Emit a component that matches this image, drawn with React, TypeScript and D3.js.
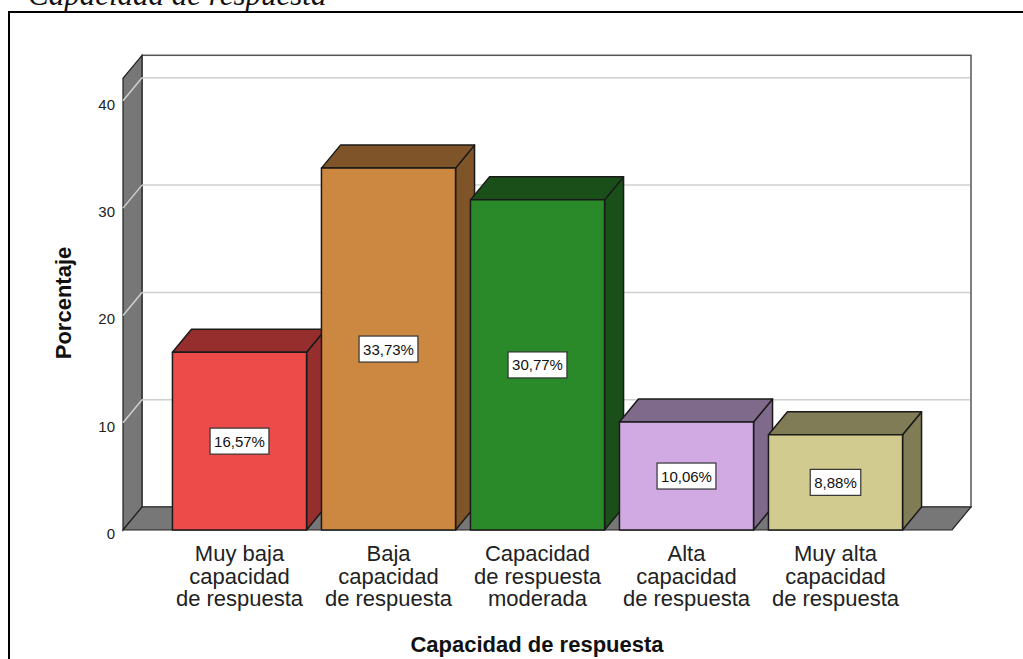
import * as d3 from 'd3';
import React, { useEffect, useRef } from 'react';

const categories = [
  'Muy baja capacidad de respuesta',
  'Baja capacidad de respuesta',
  'Capacidad de respuesta moderada',
  'Alta capacidad de respuesta',
  'Muy alta capacidad de respuesta',
];
const categoryLines = [
  ['Muy baja', 'capacidad', 'de respuesta'],
  ['Baja', 'capacidad', 'de respuesta'],
  ['Capacidad', 'de respuesta', 'moderada'],
  ['Alta', 'capacidad', 'de respuesta'],
  ['Muy alta', 'capacidad', 'de respuesta'],
];
const percentages = [16.57, 33.73, 30.77, 10.06, 8.88];
const yTicks = [0, 10, 20, 30, 40];

const frontColors = ['#ED4A4A', '#CC8840', '#2A8A2A', '#D1A9E3', '#D1CB8F'];
const darkColors = ['#962E2E', '#7E5428', '#1A4F1A', '#806A8C', '#807D56'];

const W = 1023;
const H = 659;
const DX = 19;
const DY = 23;
const left = 123;
const right = 952;
const font = '"Liberation Sans", Arial, sans-serif';

const App = () => {
  const svgRef = useRef(null);

  useEffect(() => {
    const svg = d3.select(svgRef.current);
    svg.selectAll('*').remove();

    const y = d3.scaleLinear().domain([0, 42.1]).range([530, 78.3]);
    const x = d3
      .scaleBand()
      .domain(categories)
      .range([165, 910])
      .paddingInner(0.1)
      .paddingOuter(0.05);
    const y0 = y(0);
    const yTop = y(42.1);

    // outer frame + caption cut by the top edge
    svg
      .append('text')
      .attr('x', 28)
      .attr('y', 5)
      .style('font-family', '"Liberation Serif", "Times New Roman", serif')
      .style('font-style', 'italic')
      .style('font-size', '31px')
      .style('fill', '#111')
      .text('Capacidad de respuesta');
    svg
      .append('path')
      .attr('d', `M9,${H} L9,12 L${W},12`)
      .attr('fill', 'none')
      .attr('stroke', '#000')
      .attr('stroke-width', 2);

    // back wall
    svg
      .append('rect')
      .attr('x', left + DX)
      .attr('y', yTop - DY)
      .attr('width', right - left)
      .attr('height', y0 - yTop)
      .attr('fill', '#fff')
      .attr('stroke', '#555')
      .attr('stroke-width', 1.5);

    // left wall
    svg
      .append('polygon')
      .attr(
        'points',
        [
          [left, y0],
          [left, yTop],
          [left + DX, yTop - DY],
          [left + DX, y0 - DY],
        ].join(' ')
      )
      .attr('fill', '#777')
      .attr('stroke', '#222')
      .attr('stroke-width', 1.2);

    // floor
    svg
      .append('polygon')
      .attr(
        'points',
        [
          [left, y0],
          [right, y0],
          [right + DX, y0 - DY],
          [left + DX, y0 - DY],
        ].join(' ')
      )
      .attr('fill', '#777')
      .attr('stroke', '#222')
      .attr('stroke-width', 1.2);

    // gridlines
    const grid = svg.append('g').attr('stroke', '#d0d0d0').attr('stroke-width', 1.5);
    yTicks
      .filter((t) => t > 0)
      .forEach((t) => {
        grid
          .append('line')
          .attr('x1', left + DX)
          .attr('x2', right + DX - 1)
          .attr('y1', y(t) - DY)
          .attr('y2', y(t) - DY);
        grid
          .append('line')
          .attr('x1', left)
          .attr('x2', left + DX)
          .attr('y1', y(t))
          .attr('y2', y(t) - DY);
      });

    // tick labels
    svg
      .append('g')
      .selectAll('text')
      .data(yTicks)
      .enter()
      .append('text')
      .attr('x', 115)
      .attr('y', (d) => y(d) + 9)
      .attr('text-anchor', 'end')
      .style('font-family', font)
      .style('font-size', '15px')
      .style('fill', '#222')
      .text((d) => d);

    // bars
    const bw = x.bandwidth();
    percentages.forEach((v, i) => {
      const bx = x(categories[i]) as number;
      const by = y(v);
      const g = svg.append('g').attr('stroke', '#1a1a1a').attr('stroke-width', 1.5).attr('stroke-linejoin', 'round');
      g.append('polygon')
        .attr(
          'points',
          [
            [bx + bw, by],
            [bx + bw + DX, by - DY],
            [bx + bw + DX, y0 - DY],
            [bx + bw, y0],
          ].join(' ')
        )
        .attr('fill', darkColors[i]);
      g.append('polygon')
        .attr(
          'points',
          [
            [bx, by],
            [bx + DX, by - DY],
            [bx + bw + DX, by - DY],
            [bx + bw, by],
          ].join(' ')
        )
        .attr('fill', darkColors[i]);
      g.append('rect')
        .attr('x', bx)
        .attr('y', by)
        .attr('width', bw)
        .attr('height', y0 - by)
        .attr('fill', frontColors[i]);

      const cx = bx + bw / 2;
      const cy = (by + y0) / 2;
      const lab = svg.append('g');
      const box = lab.append('rect').attr('fill', '#fff').attr('stroke', '#333').attr('stroke-width', 1.2);
      const txt = lab
        .append('text')
        .attr('x', cx)
        .attr('y', cy + 5.5)
        .attr('text-anchor', 'middle')
        .style('font-family', font)
        .style('font-size', '15px')
        .style('fill', '#111')
        .text(v.toFixed(2).replace('.', ',') + '%');
      const tw = (txt.node() as SVGTextElement).getComputedTextLength();
      box
        .attr('x', cx - tw / 2 - 4)
        .attr('y', cy - 13)
        .attr('width', tw + 8)
        .attr('height', 26);
    });

    // category labels
    categoryLines.forEach((lines, i) => {
      const cx = (x(categories[i]) as number) + bw / 2;
      const t = svg
        .append('text')
        .attr('text-anchor', 'middle')
        .style('font-family', font)
        .style('font-size', '22px')
        .style('fill', '#222');
      lines.forEach((ln, j) => {
        t.append('tspan')
          .attr('x', cx)
          .attr('y', 561 + j * 22.5)
          .text(ln);
      });
    });

    // axis titles
    svg
      .append('text')
      .attr('x', 537)
      .attr('y', 652)
      .attr('text-anchor', 'middle')
      .style('font-family', font)
      .style('font-weight', 'bold')
      .style('font-size', '22px')
      .style('fill', '#111')
      .text('Capacidad de respuesta');
    svg
      .append('text')
      .attr('transform', 'translate(71,303) rotate(-90)')
      .attr('text-anchor', 'middle')
      .style('font-family', font)
      .style('font-weight', 'bold')
      .style('font-size', '22px')
      .style('fill', '#111')
      .text('Porcentaje');
  }, []);

  return (
    <svg
      ref={svgRef}
      width={W}
      height={H}
      style={{ position: 'absolute', left: 0, top: 0, background: '#fff', display: 'block' }}
    />
  );
};

export default App;
